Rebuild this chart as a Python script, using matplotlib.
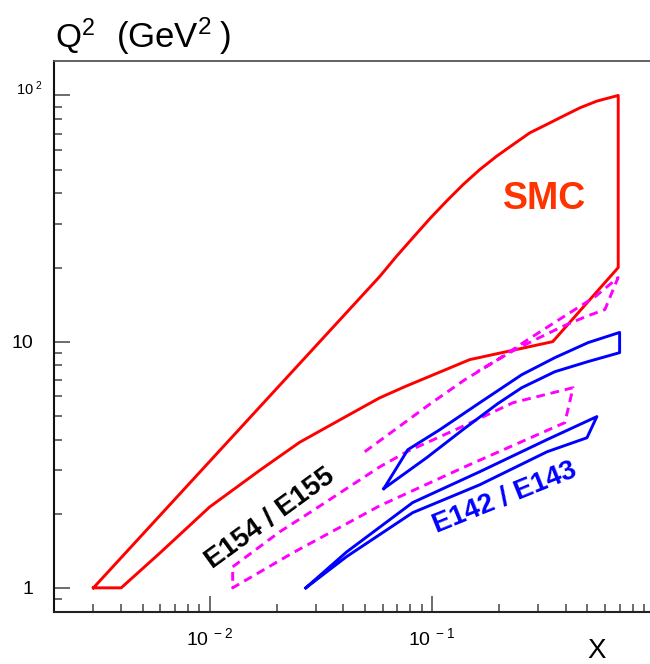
import matplotlib
matplotlib.use("Agg")
import matplotlib.pyplot as plt
from matplotlib.ticker import LogLocator, NullFormatter, FixedLocator, FixedFormatter
import matplotlib.transforms as mtransforms

plt.rcParams['font.family'] = ['Liberation Sans', 'DejaVu Sans']
plt.rcParams['mathtext.fontset'] = 'custom'
plt.rcParams['mathtext.rm'] = 'Liberation Sans'
plt.rcParams['mathtext.it'] = 'Liberation Sans:italic'
plt.rcParams['mathtext.bf'] = 'Liberation Sans:bold'
plt.rcParams['axes.unicode_minus'] = False

# ---- data (x, Q^2 in GeV^2) ----
smc_x = [0.003, 0.0583, 0.0693, 0.0824, 0.098, 0.1164, 0.1385, 0.1644, 0.1955,
         0.2323, 0.2761, 0.3285, 0.390, 0.4645, 0.552, 0.69, 0.69,
         0.35, 0.148, 0.0755, 0.058, 0.04, 0.0254, 0.0168, 0.01, 0.006, 0.004, 0.003]
smc_q2 = [1.0, 18.4, 22.2, 26.5, 31.6, 37.2, 43.5, 50.0, 56.6,
          63.2, 70.5, 76.2, 82.4, 89.1, 94.8, 100.0, 20.0,
          10.0, 8.45, 6.56, 5.9, 4.9, 3.9, 3.0, 2.13, 1.39, 1.0, 1.0]

e154_low_x = [0.0127, 0.0207, 0.0282, 0.0583, 0.0771, 0.1336, 0.232, 0.432,
              0.397, 0.1439, 0.0583, 0.0237, 0.0127, 0.0127]
e154_low_q2 = [1.217, 1.69, 2.02, 3.10, 3.57, 4.47, 5.65, 6.50,
               4.69, 3.13, 2.155, 1.388, 1.0, 1.217]

e155_up_x = [0.0499, 0.1, 0.141, 0.192, 0.271, 0.385, 0.542, 0.689,
             0.601, 0.489, 0.385, 0.313, 0.237, 0.16]
e155_up_q2 = [3.57, 5.65, 7.01, 8.3, 10.2, 12.5, 15.2, 18.2,
              13.5, 12.6, 11.5, 10.5, 9.28, 7.55]

e143_x = [0.0608, 0.078, 0.1087, 0.1644, 0.254, 0.358, 0.505, 0.70,
          0.70, 0.505, 0.358, 0.254, 0.198, 0.138, 0.0949, 0.0608]
e143_q2 = [2.53, 3.64, 4.39, 5.65, 7.34, 8.61, 9.91, 10.9,
           9.02, 8.3, 7.55, 6.5, 5.6, 4.39, 3.38, 2.53]

e142_x = [0.0271, 0.0414, 0.082, 0.164, 0.330, 0.553,
          0.499, 0.330, 0.164, 0.082, 0.0414, 0.0271]
e142_q2 = [1.0, 1.40, 2.22, 2.96, 4.0, 4.96,
           4.07, 3.57, 2.62, 2.02, 1.34, 1.0]

x_major = [0.01, 0.1]
x_major_labels = [r'$\mathregular{10^{\ -2}}$', r'$\mathregular{10^{\ -1}}$']
y_major = [1, 10]
y_major_labels = ['1', '10']

RED = '#ff0000'
BLUE = '#0000ff'
MAG = '#ff00ff'
SMC_COL = '#ff3300'

fig = plt.figure(figsize=(6.5, 6.64), dpi=100)
ax = fig.add_axes([54.3 / 650, 1 - 611.7 / 664, 1 - 54.3 / 650, 550.7 / 664])
ax.set_xscale('log')
ax.set_yscale('log')
ax.set_xlim(0.002, 0.959)
ax.set_ylim(0.80, 138)

LW = 2.1
ax.plot(smc_x, smc_q2, color=RED, lw=LW)
ax.plot(e154_low_x, e154_low_q2, color=MAG, lw=LW, linestyle=(0, (3, 2)))
ax.plot(e155_up_x, e155_up_q2, color=MAG, lw=LW, linestyle=(0, (3, 2)))
ax.plot(e143_x, e143_q2, color=BLUE, lw=LW)
ax.plot(e142_x, e142_q2, color=BLUE, lw=LW)

# labels on the plot
ax.text(0.323, 38.1, 'SMC', color=SMC_COL, fontsize=27, fontweight='bold',
        ha='center', va='center')
ax.text(0.0188, 1.91, 'E154 / E155', color='black', fontsize=20, fontweight='bold',
        ha='center', va='center', rotation=36, rotation_mode='anchor')
ax.text(0.213, 2.32, 'E142 / E143', color=BLUE, fontsize=20, fontweight='bold',
        ha='center', va='center', rotation=22, rotation_mode='anchor')

# spines
ax.spines['right'].set_visible(False)
ax.spines['left'].set_linewidth(1.5)
ax.spines['bottom'].set_linewidth(1.5)
ax.spines['left'].set_color('#111111')
ax.spines['bottom'].set_color('#222222')
ax.spines['top'].set_linewidth(1.3)
ax.spines['top'].set_color('#555555')

# ticks
ax.xaxis.set_major_locator(FixedLocator(x_major))
ax.xaxis.set_major_formatter(FixedFormatter(x_major_labels))
ax.xaxis.set_minor_locator(LogLocator(base=10, subs=range(2, 10), numticks=20))
ax.xaxis.set_minor_formatter(NullFormatter())
ax.yaxis.set_major_locator(FixedLocator([1, 10, 100]))
ax.yaxis.set_major_formatter(FixedFormatter(y_major_labels + ['']))
ax.yaxis.set_minor_locator(LogLocator(base=10, subs=range(2, 10), numticks=20))
ax.yaxis.set_minor_formatter(NullFormatter())

ax.tick_params(which='both', direction='in', top=False, right=False,
               color='#444444', width=1.1)
ax.tick_params(which='major', length=11.5)
ax.tick_params(which='minor', length=6)
ax.tick_params(axis='x', which='major', pad=11, labelsize=14)
ax.tick_params(axis='y', which='major', pad=15, labelsize=14)

# smaller top label 10^2
trans = mtransforms.blended_transform_factory(ax.transAxes, ax.transData)
ax.text((42 - 54.3) / 595.7, 100, r'$\mathregular{10^{\ 2}}$', transform=trans,
        ha='right', va='baseline', fontsize=10.5)

# axis titles
fig.text(55 / 650, 1 - 48 / 664, r'$\mathregular{Q^{2}}$',
         fontsize=24, ha='left', va='baseline')
fig.text(116 / 650, 1 - 48 / 664, r'$\mathregular{(GeV^{2}\;)}$',
         fontsize=25, ha='left', va='baseline')
fig.text(597 / 650, 1 - 658 / 664, 'X', fontsize=20, ha='center', va='baseline')

fig.savefig('out.png', dpi=100)
